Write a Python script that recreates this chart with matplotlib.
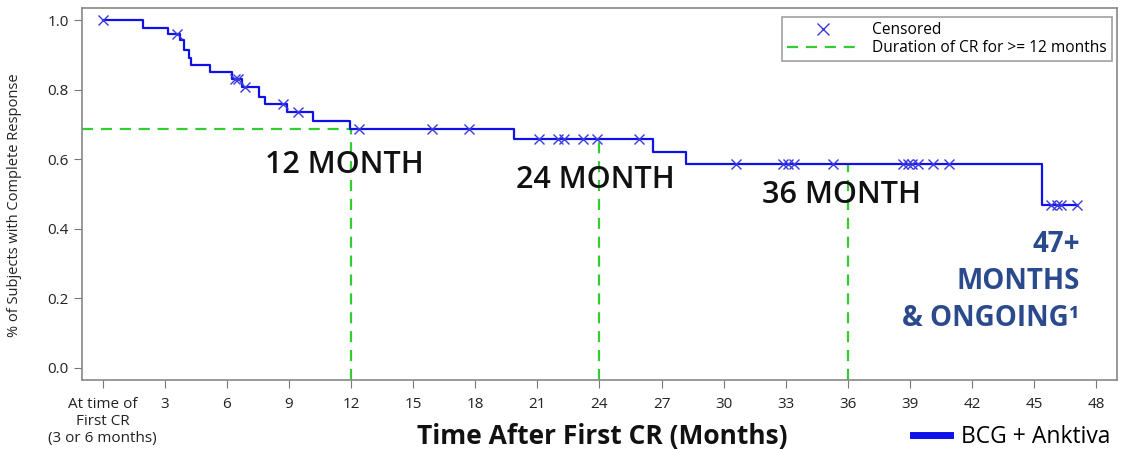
import numpy as np
import matplotlib
matplotlib.use("Agg")
from matplotlib import pyplot as plt
from matplotlib.lines import Line2D

plt.rcParams['font.family'] = ['Open Sans', 'DejaVu Sans']

# Kaplan-Meier steps: time of each drop (months) and level after it
step_times = [0, 1.93, 3.14, 3.72, 3.91, 4.15, 4.25, 5.17, 6.23, 6.71, 7.54,
              7.83, 8.89, 10.14, 11.93, 19.86, 26.6, 28.2, 45.4]
step_surv = [1.0, 0.979, 0.959, 0.944, 0.914, 0.89, 0.871, 0.851, 0.830,
             0.807, 0.779, 0.758, 0.735, 0.71, 0.687, 0.658, 0.621, 0.586,
             0.468]
last_followup = 47.05

# censored subjects (months)
censor_times = [0, 3.57, 6.38, 6.52, 6.86, 8.70, 9.42, 12.4, 15.9, 17.7,
                21.1, 22.0, 22.3, 23.2, 23.9, 25.9, 30.6, 32.85, 33.1, 33.4,
                35.3, 38.65, 38.9, 39.1, 39.4, 40.1, 40.9, 45.8, 46.1, 46.3,
                47.05]

landmarks = [12, 24, 36]
xticks = list(range(0, 49, 3))
xticklabels = ['At time of\nFirst CR\n(3 or 6 months)'] + [str(t) for t in xticks[1:]]
yticks = [0.0, 0.2, 0.4, 0.6, 0.8, 1.0]

curve_blue = '#1010e8'
green = '#33cc33'
navy = '#2b4a8e'


def surv_at(t):
    i = np.searchsorted(step_times, t, side='right') - 1
    return step_surv[i]


fig = plt.figure(figsize=(11.22, 4.49), dpi=100)
ax = fig.add_axes([0.073, 0.154, 0.9225, 0.828])

# survival curve
xs = step_times + [last_followup]
ys = step_surv + [step_surv[-1]]
ax.step(xs, ys, where='post', color=curve_blue, lw=1.6, zorder=3)
ax.plot(censor_times, [surv_at(t) for t in censor_times], ls='none',
        marker='x', ms=7, mew=1.0, color='#3a3ae0', zorder=4)

# landmark guides
ax.plot([-1, landmarks[0]], [surv_at(landmarks[0])] * 2, ls='--', color=green,
        lw=1.6, dashes=(5, 3.5), zorder=2)
for m in landmarks:
    ax.plot([m, m], [-0.035, surv_at(m)], ls='--', color=green, lw=1.6,
            dashes=(5, 3.5), zorder=2)

for m, (tx, ty) in zip(landmarks, [(11.7, 0.583), (23.8, 0.54), (35.7, 0.497)]):
    ax.text(tx, ty, '%d MONTH' % m, ha='center', va='center', fontsize=22,
            fontweight='semibold', color='#111111', zorder=5)

ax.text(47.2, 0.248, '47+\nMONTHS\n& ONGOING\u00b9', ha='right', va='center',
        multialignment='right', fontsize=20, fontweight='bold', color=navy,
        linespacing=1.36)

ax.set_xlim(-1, 49)
ax.set_ylim(-0.035, 1.035)
ax.set_xticks(xticks)
ax.set_xticklabels(xticklabels, fontsize=11, color='#222222')
ax.set_yticks(yticks)
ax.set_yticklabels(['%.1f' % v for v in yticks], fontsize=11, color='#222222')
ax.tick_params(direction='out', length=6, color='#777777')
ax.tick_params(axis='x', pad=6)
for s in ax.spines.values():
    s.set_color('#888888')
    s.set_linewidth(1.2)

ax.set_ylabel('% of Subjects with Complete Response', fontsize=10.5,
              color='#222222')
ax.yaxis.set_label_coords(-0.058, 0.47)
ax.set_xlabel('Time After First CR (Months)', fontsize=19, fontweight='bold',
              color='#111111')
ax.xaxis.set_label_coords(0.503, -0.153)
ax.xaxis.label.set_va('center')

handles = [
    Line2D([], [], ls='none', marker='x', ms=8, mew=1.0, color='#3a3ae0'),
    Line2D([], [], ls='--', color=green, lw=1.6, dashes=(5, 3.5)),
]
leg = ax.legend(handles, ['Censored', 'Duration of CR for >= 12 months'],
                loc='upper right', bbox_to_anchor=(0.995, 0.975),
                borderaxespad=0, fancybox=False, fontsize=11.2,
                handlelength=4.6, handletextpad=0.9, labelspacing=0.15,
                borderpad=0.3, edgecolor='#888888')
leg.get_frame().set_linewidth(1.2)

fig.legend([Line2D([], [], color=curve_blue, lw=5)], ['BCG + Anktiva'],
           loc='center right', bbox_to_anchor=(1.0, 1 - 437 / 449),
           frameon=False, fontsize=16.5, handlelength=1.6, handletextpad=0.5,
           borderaxespad=0.1)

fig.savefig('out.png', dpi=100)
